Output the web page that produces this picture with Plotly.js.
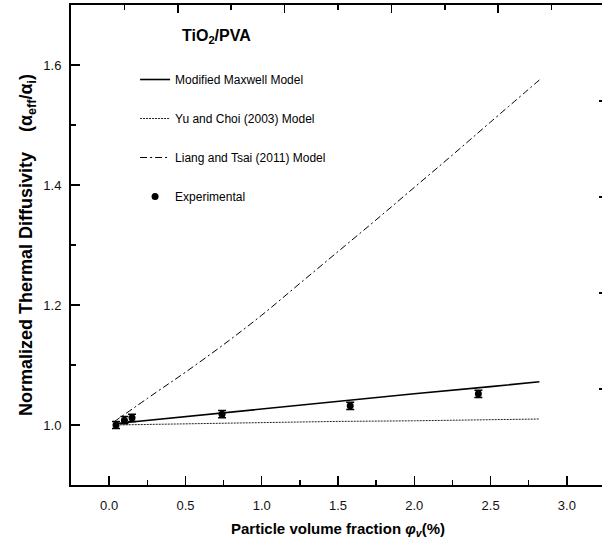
<!DOCTYPE html>
<html>
<head>
<meta charset="utf-8">
<script src="https://cdn.plot.ly/plotly-3.0.1.min.js"></script>
<style>
  html, body { margin: 0; padding: 0; overflow: hidden; background: #fff; }
  #chart { width: 610px; height: 546px; }
</style>
</head>
<body>
<div id="chart"></div>
<script>
// Particle volume fraction (%) and normalized thermal diffusivity for TiO2/PVA
const maxwellPhi = [0.03, 0.5, 1.0, 1.5, 2.0, 2.5, 2.82];
const maxwellVal = [1.002, 1.014, 1.027, 1.039, 1.052, 1.064, 1.072];

const yuChoiPhi = [0.03, 0.5, 1.0, 1.5, 2.0, 2.5, 2.82];
const yuChoiVal = [1.000, 1.002, 1.004, 1.006, 1.007, 1.009, 1.010];

const liangPhi = [0.03, 0.3, 0.5, 0.75, 1.0, 1.25, 1.5, 1.75, 2.0, 2.25, 2.5, 2.82];
const liangVal = [1.005, 1.053, 1.088, 1.134, 1.183, 1.236, 1.289, 1.342, 1.396, 1.45, 1.505, 1.575];

const expPhi = [0.045, 0.10, 0.15, 0.74, 1.58, 2.42];
const expVal = [1.000, 1.008, 1.012, 1.018, 1.032, 1.052];
const expErr = [0.006, 0.006, 0.006, 0.006, 0.006, 0.006];

const font = 'Liberation Sans, Arial, sans-serif';

const traces = [
  {
    x: maxwellPhi, y: maxwellVal, mode: 'lines', name: 'Modified Maxwell Model',
    line: { color: '#000', width: 1.6 }, legendgroup: 'a'
  },
  {
    x: yuChoiPhi, y: yuChoiVal, mode: 'lines', name: 'Yu and Choi (2003) Model',
    line: { color: '#222', width: 1, dash: '2px,1px' }, legendgroup: 'b'
  },
  {
    x: liangPhi, y: liangVal, mode: 'lines', name: 'Liang and Tsai (2011) Model',
    line: { color: '#000', width: 1, dash: '7px,3px,2px,3px', shape: 'spline' }, legendgroup: 'c'
  },
  {
    x: expPhi, y: expVal, mode: 'markers', name: 'Experimental',
    marker: { color: '#000', size: 7, symbol: 'circle' },
    error_y: { type: 'data', array: expErr, visible: true, color: '#000', thickness: 1.5, width: 4 },
    legendgroup: 'd'
  },
  // companion axes on top and right
  { x: [], y: [], xaxis: 'x2', yaxis: 'y2', showlegend: false, hoverinfo: 'skip' }
];

const layout = {
  width: 610, height: 546,
  margin: { l: 71, r: 5, t: 5, b: 61 },
  paper_bgcolor: '#fff', plot_bgcolor: '#fff',
  font: { family: font, color: '#000', size: 13 },
  showlegend: true,
  legend: {
    x: 0.12, y: 0.875, xanchor: 'left', yanchor: 'top',
    bgcolor: 'rgba(0,0,0,0)', borderwidth: 0,
    font: { family: font, size: 12, color: '#000' },
    traceorder: 'grouped', tracegroupgap: 20
  },
  xaxis: {
    range: [-0.25, 3.25], dtick: 0.5, tick0: 0, tickformat: '.1f',
    showgrid: false, zeroline: false,
    showline: true, linecolor: '#000', linewidth: 2,
    ticks: 'inside', ticklen: 9, tickwidth: 1.5, tickcolor: '#000',
    minor: { dtick: 0.25, ticks: 'inside', ticklen: 5, tickwidth: 1.5, tickcolor: '#000' },
    tickfont: { size: 13, family: font, color: '#111' },
    ticklabelstandoff: 7,
    title: { text: '<b>Particle volume fraction <i>φ</i><sub><i>v</i></sub>(%)</b>', font: { size: 15, family: font }, standoff: 12 }
  },
  yaxis: {
    range: [0.9, 1.7], dtick: 0.2, tick0: 1.0, tickformat: '.1f',
    showgrid: false, zeroline: false,
    showline: true, linecolor: '#000', linewidth: 2,
    ticks: 'inside', ticklen: 9, tickwidth: 1.5, tickcolor: '#000',
    minor: { dtick: 0.1, ticks: 'inside', ticklen: 5, tickwidth: 1.5, tickcolor: '#000' },
    tickfont: { size: 13, family: font, color: '#111' },
    ticklabelstandoff: 5,
    title: { text: '<b>Normalized Thermal Diffusivity&nbsp;&nbsp;&nbsp;&nbsp;(α<sub>eff</sub>/α<sub>i</sub>)</b>', font: { size: 18, family: font }, standoff: 6 }
  },
  xaxis2: {
    overlaying: 'x', side: 'top', anchor: 'y2', range: [0, 5], dtick: 1,
    showgrid: false, zeroline: false, showticklabels: false,
    showline: true, linecolor: '#000', linewidth: 2,
    ticks: 'inside', ticklen: 8, tickwidth: 1.5, tickcolor: '#000',
    minor: { dtick: 0.5, ticks: 'inside', ticklen: 5, tickwidth: 1.5, tickcolor: '#000' }
  },
  yaxis2: {
    overlaying: 'y', side: 'right', anchor: 'x2', range: [0, 5], dtick: 1,
    showgrid: false, zeroline: false, showticklabels: false,
    showline: true, linecolor: '#000', linewidth: 2,
    ticks: 'inside', ticklen: 6, tickwidth: 1.5, tickcolor: '#000'
  },
  annotations: [
    {
      xref: 'paper', yref: 'paper', x: 0.205, y: 0.935, xanchor: 'left', yanchor: 'middle',
      text: '<b>TiO<sub>2</sub>/PVA</b>', showarrow: false,
      font: { family: font, size: 16, color: '#000' }
    }
  ]
};

Plotly.newPlot('chart', traces, layout, { displayModeBar: false, staticPlot: true });
</script>
</body>
</html>
